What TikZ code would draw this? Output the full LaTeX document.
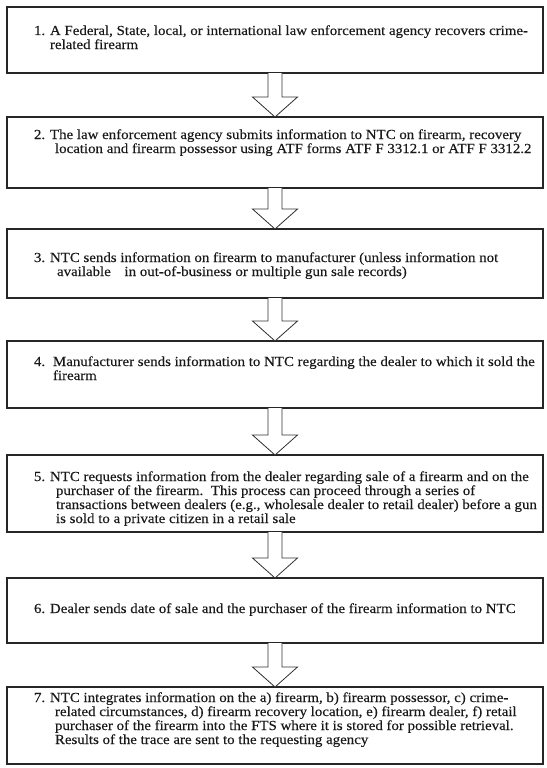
\documentclass[tikz,border=0pt]{standalone}
\usepackage{fontspec}
\setmainfont{Liberation Serif}[FakeStretch=1.08, FakeBold=0.25]
\usetikzlibrary{calc}
\tikzset{
  stepbox/.style={draw=black!85, line width=1.4pt, minimum width=536pt, inner sep=0pt, outer sep=0pt},
  steptext/.style={anchor=base west, inner sep=0pt, outer sep=0pt, text=black!90, font=\fontsize{13.8}{14}\selectfont},
  blockarrow/.style={draw=black!80, line width=0.8pt, fill=white, line join=miter}
}
\newcommand{\steplines}[1]{\parbox[t]{530pt}{\raggedright\setlength{\parindent}{0pt}#1}}
\newcommand{\blockarr}[2]{%
  \draw[blockarrow] ($(#1.south)+(-7,0)$) -- ($(#2.north)+(-7,-20)$) -- ($(#2.north)+(-22.5,-20)$)
    -- (#2.north) -- ($(#2.north)+(22.5,-20)$) -- ($(#2.north)+(7,-20)$) -- ($(#1.south)+(7,0)$);}
\begin{document}
\begin{tikzpicture}[x=1pt, y=-1pt]
\useasboundingbox[fill=white] (0,0) rectangle (546,768);
% boxes
\node[stepbox, minimum height=66pt] (b1) at (275,40) {};
\node[stepbox, minimum height=71pt] (b2) at (275,152.5) {};
\node[stepbox, minimum height=69pt] (b3) at (275,263.5) {};
\node[stepbox, minimum height=67pt] (b4) at (275,374.5) {};
\node[stepbox, minimum height=77pt] (b5) at (275,493.5) {};
\node[stepbox, minimum height=65pt] (b6) at (275,610.5) {};
\node[stepbox, minimum height=77pt] (b7) at (275,725.5) {};
% arrows
\blockarr{b1}{b2}
\blockarr{b2}{b3}
\blockarr{b3}{b4}
\blockarr{b4}{b5}
\blockarr{b5}{b6}
\blockarr{b6}{b7}
% texts
\node[steptext] (t1) at (34,35) {\steplines{\makebox[16pt][l]{1.}A Federal, State, local, or international law enforcement agency recovers crime-\\
\hspace*{16pt}related firearm}};
\node[steptext] (t2) at (34,139) {\steplines{\makebox[16pt][l]{2.}The law enforcement agency submits information to NTC on firearm, recovery\\
\hspace*{21pt}location and firearm possessor using ATF forms ATF F 3312.1 or ATF F 3312.2}};
\node[steptext] (t3) at (34,262) {\steplines{\makebox[16pt][l]{3.}NTC sends information on firearm to manufacturer (unless information not\\
\hspace*{23pt}available\hspace{10pt} in out-of-business or multiple gun sale records)}};
\node[steptext] (t4) at (34,366) {\steplines{\makebox[19pt][l]{4.}Manufacturer sends information to NTC regarding the dealer to which it sold the\\
\hspace*{19pt}firearm}};
\node[steptext] (t5) at (34,481) {\steplines{\makebox[16pt][l]{5.}NTC requests information from the dealer regarding sale of a firearm and on the\\
\hspace*{22pt}purchaser of the firearm.\ \ This process can proceed through a series of\\
\hspace*{22pt}transactions between dealers (e.g., wholesale dealer to retail dealer) before a gun\\
\hspace*{22pt}is sold to a private citizen in a retail sale}};
\node[steptext] (t6) at (34,613) {\steplines{\makebox[16pt][l]{6.}Dealer sends date of sale and the purchaser of the firearm information to NTC}};
\node[steptext] (t7) at (34,702) {\steplines{\makebox[16pt][l]{7.}NTC integrates information on the a) firearm, b) firearm possessor, c) crime-\\
\hspace*{21pt}related circumstances, d) firearm recovery location, e) firearm dealer, f) retail\\
\hspace*{21pt}purchaser of the firearm into the FTS where it is stored for possible retrieval.\\
\hspace*{21pt}Results of the trace are sent to the requesting agency}};
\end{tikzpicture}
\end{document}
